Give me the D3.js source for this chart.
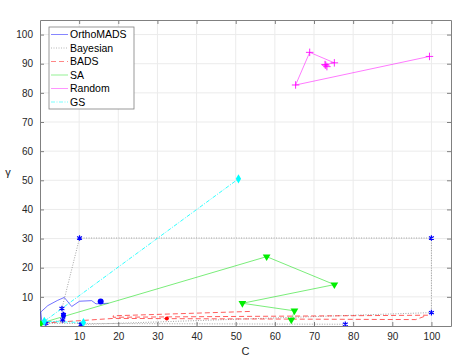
<!DOCTYPE html>
<html>
<head>
<meta charset="utf-8">
<script src="https://cdn.jsdelivr.net/npm/d3@7"></script>
<style>
  body { margin: 0; background: #fff; }
  svg text { font-family: "Liberation Sans", Arial, sans-serif; }
</style>
</head>
<body>
<svg id="chart" width="460" height="358"></svg>
<script>
// Series data (C, gamma)
const orthoC = [0.5, 0.2, 2, 4.5, 6.2, 8.1, 10.1, 13.2, 14.3, 17.5];
const orthoG = [1.0, 4.8, 7.0, 8.8, 9.8, 6.7, 8.5, 8.7, 7.6, 7.8];
const orthoPtsC = [6.0, 6.0, 15.5];
const orthoPtsG = [3.3, 4.0, 8.4];

const bayesC = [78, 1.5, 5.8, 6.0, 5.6, 10.1, 100, 100, 10.5];
const bayesG = [0.6, 0.9, 2.1, 3.9, 6.0, 30.2, 30.2, 4.6, 0.5];

const badsC = [1, 18.7, 96, 99, 18.7, 18.7, 53.7];
const badsG = [1.0, 2.6, 2.2, 3.7, 3.0, 3.5, 5.0];
const badsBestC = [32.4];
const badsBestG = [2.6];

const saC = [0.3, 57.9, 75.2, 51.7, 65.0, 64.2];
const saG = [1.0, 23.8, 14.2, 7.8, 5.2, 2.1];

const randC = [99.5, 65.3, 68.9, 75.2, 72.8, 73.3, 73.0];
const randG = [92.5, 82.7, 93.9, 90.3, 89.7, 89.0, 89.5];

const gsC = [11.1, 1.1, 50.7];
const gsG = [1.2, 1.6, 50.5];

const tickVals = [10, 20, 30, 40, 50, 60, 70, 80, 90, 100];
const legendNames = ['OrthoMADS', 'Bayesian', 'BADS', 'SA', 'Random', 'GS'];

const svg = d3.select('#chart');
const margin = { left: 40, right: 9, top: 20, bottom: 32 };
const width = 460, height = 358;

const x = d3.scaleLinear().domain([0, 105]).range([margin.left, width - margin.right]);
const y = d3.scaleLinear().domain([0, 105]).range([height - margin.bottom, margin.top]);

const axisColor = '#808080';
const textColor = '#262626';

// Grid
const grid = svg.append('g');
grid.selectAll('line.gx').data(tickVals).enter().append('line')
  .attr('x1', d => x(d)).attr('x2', d => x(d))
  .attr('y1', y(0)).attr('y2', y(105))
  .attr('stroke', '#ebebeb').attr('stroke-width', 1);
grid.selectAll('line.gy').data(tickVals).enter().append('line')
  .attr('y1', d => y(d)).attr('y2', d => y(d))
  .attr('x1', x(0)).attr('x2', x(105))
  .attr('stroke', '#ebebeb').attr('stroke-width', 1);

// Axes (ticks inward, box on)
const fmt = d3.format('d');
const xAxis = svg.append('g').attr('transform', `translate(0,${y(0)})`)
  .call(d3.axisBottom(x).tickValues(tickVals).tickFormat(fmt).tickSizeInner(-4).tickSizeOuter(0).tickPadding(7));
const xTop = svg.append('g').attr('transform', `translate(0,${y(105)})`)
  .call(d3.axisTop(x).tickValues(tickVals).tickFormat('').tickSizeInner(-4).tickSizeOuter(0));
const yAxis = svg.append('g').attr('transform', `translate(${x(0)},0)`)
  .call(d3.axisLeft(y).tickValues(tickVals).tickFormat(fmt).tickSizeInner(-4).tickSizeOuter(0).tickPadding(7));
const yRight = svg.append('g').attr('transform', `translate(${x(105)},0)`)
  .call(d3.axisRight(y).tickValues(tickVals).tickFormat('').tickSizeInner(-4).tickSizeOuter(0));

[xAxis, xTop, yAxis, yRight].forEach(g => {
  g.select('.domain').attr('stroke', axisColor);
  g.selectAll('.tick line').attr('stroke', axisColor);
  g.selectAll('.tick text').attr('fill', textColor).attr('font-size', 10)
    .attr('font-family', '"Liberation Sans", Arial, sans-serif');
});

// Axis labels
svg.append('text').attr('x', x(52.5)).attr('y', 355)
  .attr('text-anchor', 'middle').attr('font-size', 11).attr('fill', textColor).text('C');
svg.append('text').attr('x', 8).attr('y', y(52.5) + 3)
  .attr('text-anchor', 'middle').attr('font-size', 11).attr('fill', textColor).text('γ');

// Clip to plot area
svg.append('clipPath').attr('id', 'clip').append('rect')
  .attr('x', x(0)).attr('y', y(105)).attr('width', x(105) - x(0)).attr('height', y(0) - y(105));
const plot = svg.append('g').attr('clip-path', 'url(#clip)');

const line = d3.line().x(d => x(d[0])).y(d => y(d[1]));
const pts = (cs, gs) => cs.map((c, i) => [c, gs[i]]);

const series = [
  { data: pts(orthoC, orthoG), color: '#0000ff', dash: null, width: 0.8, op: 0.7 },
  { data: pts(bayesC, bayesG), color: '#333333', dash: '1,1.5', width: 0.6, op: 0.75 },
  { data: pts(badsC, badsG), color: '#ff0000', dash: '5,3', width: 0.8, op: 0.8 },
  { data: pts(saC, saG), color: '#00dd00', dash: null, width: 0.7, op: 0.75 },
  { data: pts(randC, randG), color: '#ff00ff', dash: null, width: 0.7, op: 0.75 },
  { data: pts(gsC, gsG), color: '#00ffff', dash: '4,1.5,1,1.5', width: 0.9, op: 0.9 }
];

series.forEach(s => {
  plot.append('path').datum(s.data)
    .attr('d', line)
    .attr('fill', 'none')
    .attr('stroke', s.color)
    .attr('stroke-width', s.width)
    .attr('stroke-opacity', s.op)
    .attr('stroke-dasharray', s.dash);
});

// Markers
const star = d3.symbol().type(d3.symbolAsterisk).size(22);
plot.selectAll('path.bstar').data(pts(bayesC, bayesG)).enter().append('path')
  .attr('transform', d => `translate(${x(d[0])},${y(d[1])})`)
  .attr('d', star).attr('fill', 'none').attr('stroke', '#0000ff').attr('stroke-width', 1.2);

plot.selectAll('circle.opts').data(pts(orthoPtsC, orthoPtsG)).enter().append('circle')
  .attr('cx', d => x(d[0])).attr('cy', d => y(d[1]))
  .attr('r', (d, i) => i === orthoPtsC.length - 1 ? 3 : 2.2).attr('fill', '#0000ff');

plot.selectAll('circle.bbest').data(pts(badsBestC, badsBestG)).enter().append('circle')
  .attr('cx', d => x(d[0])).attr('cy', d => y(d[1])).attr('r', 2).attr('fill', '#ff0000');

const tri = d3.symbol().type(d3.symbolTriangle).size(26);
plot.selectAll('path.satri').data(pts(saC, saG)).enter().append('path')
  .attr('transform', d => `translate(${x(d[0])},${y(d[1])}) rotate(180)`)
  .attr('d', tri).attr('fill', '#00ee00');

plot.selectAll('path.rplus').data(pts(randC, randG)).enter().append('path')
  .attr('d', d3.symbol().type(d3.symbolTimes).size(20))
  .attr('transform', d => `translate(${x(d[0])},${y(d[1])}) rotate(45)`)
  .attr('fill', 'none').attr('stroke', '#ff00ff').attr('stroke-width', 0.8);

const diamond = d3.symbol().type(d3.symbolDiamond).size(24);
plot.selectAll('path.gsd').data(pts(gsC, gsG)).enter().append('path')
  .attr('transform', d => `translate(${x(d[0])},${y(d[1])})`)
  .attr('d', diamond).attr('fill', '#00ffff');

// Legend
const lg = svg.append('g').attr('transform', 'translate(49,27)');
lg.append('rect').attr('width', 85).attr('height', 82)
  .attr('fill', '#fff').attr('stroke', axisColor).attr('stroke-width', 0.8);
series.forEach((s, i) => {
  const yy = 7.5 + i * 13.5;
  lg.append('line').attr('x1', 2).attr('x2', 19).attr('y1', yy).attr('y2', yy)
    .attr('stroke', s.color).attr('stroke-width', s.width).attr('stroke-opacity', 0.6)
    .attr('stroke-dasharray', s.dash);
  lg.append('text').attr('x', 21).attr('y', yy + 3.6).attr('font-size', 10.5)
    .attr('fill', '#000').text(legendNames[i]);
});
</script>
</body>
</html>
